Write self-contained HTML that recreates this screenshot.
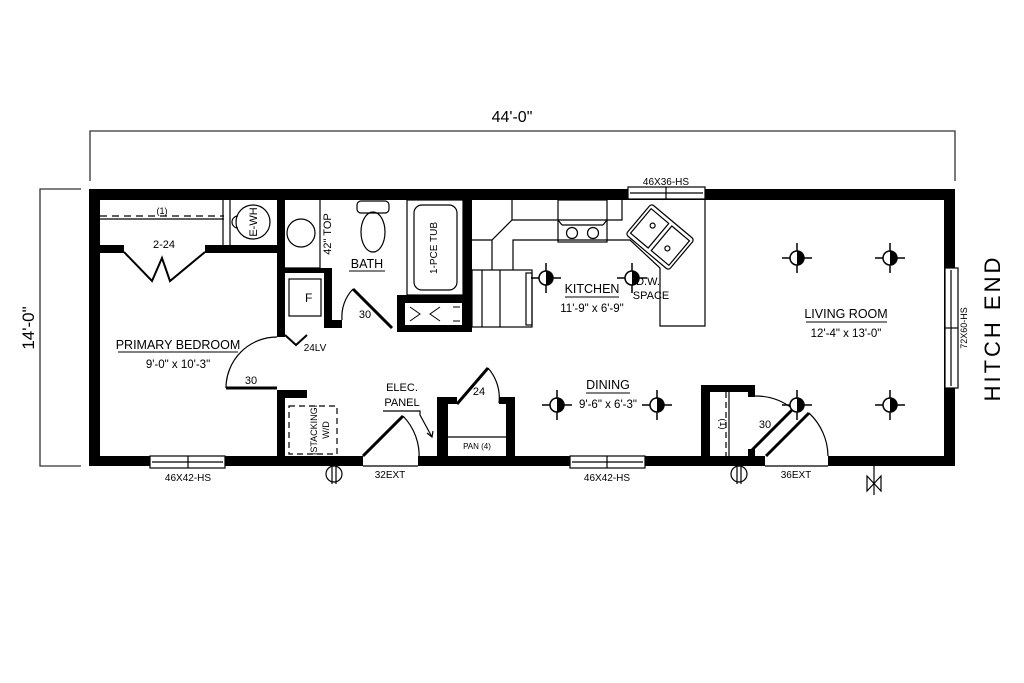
<!DOCTYPE html>
<html><head><meta charset="utf-8"><style>
html,body{margin:0;padding:0;background:#fff}
svg{display:block}
text{font-family:"Liberation Sans",sans-serif;fill:#000}
.n{font-family:"Liberation Sans Narrow","Liberation Sans",sans-serif}
</style></head><body>
<svg width="1024" height="683" viewBox="0 0 1024 683" xmlns="http://www.w3.org/2000/svg">
<defs>
<g id="lt">
<line x1="-15" y1="0" x2="15" y2="0" stroke="#000" stroke-width="1.5"/>
<line x1="0" y1="-15" x2="0" y2="15" stroke="#000" stroke-width="1.5"/>
<circle r="7" fill="#fff" stroke="#000" stroke-width="1.5"/>
<path d="M0,-7 A7,7 0 0 1 0,7 Z" fill="#000"/>
</g>
</defs>
<g stroke="#333" stroke-width="1.3" fill="none">
<polyline points="90,181 90,131 955,131 955,181"/>
<polyline points="81,189 40,189 40,466 81,466"/>
</g>
<text x="512" y="122" font-size="16" text-anchor="middle" class="n">44'-0"</text>
<text transform="translate(34,328) rotate(-90)" font-size="17" text-anchor="middle" class="n">14'-0"</text>

<g fill="#000">
<rect x="89" y="189" width="866" height="11"/>
<rect x="89" y="189" width="11" height="277"/>
<rect x="944" y="189" width="11" height="277"/>
<rect x="89" y="456" width="274" height="10"/>
<rect x="418" y="456" width="347" height="10"/>
<rect x="828" y="456" width="127" height="10"/>
<rect x="99" y="245" width="25" height="8"/>
<rect x="205" y="245" width="73" height="8"/>
<rect x="277" y="199" width="8" height="138"/>
<rect x="277" y="390" width="8" height="66"/>
<rect x="277" y="390" width="30" height="8"/>
<rect x="285" y="268" width="47" height="5"/>
<rect x="324" y="268" width="8" height="60"/>
<rect x="324" y="320" width="18" height="8"/>
<rect x="463" y="199" width="9" height="133"/>
<rect x="397" y="295" width="75" height="37"/>
<rect x="437" y="397" width="11" height="60"/>
<rect x="437" y="397" width="20" height="7"/>
<rect x="506" y="397" width="9" height="60"/>
<rect x="499" y="397" width="16" height="7"/>
<rect x="701" y="385" width="9" height="72"/>
<rect x="701" y="385" width="54" height="7"/>
<rect x="748" y="385" width="7" height="12"/>
<rect x="748" y="449" width="7" height="8"/>
</g>
<rect x="405" y="303" width="57" height="22" fill="#fff"/>
<g stroke="#000" stroke-width="1" fill="none">
<polyline points="410,307 420,314 410,321"/>
<polyline points="440,307 430,314 440,321"/>
<line x1="453" y1="307" x2="460" y2="307"/><line x1="453" y1="321" x2="460" y2="321"/>
</g>

<g stroke="#000" fill="none" stroke-width="1.2">
<line x1="100" y1="216" x2="224" y2="216" stroke-dasharray="7,5"/>
<line x1="100" y1="219" x2="224" y2="219"/>
<line x1="223" y1="200" x2="223" y2="245"/><line x1="230" y1="200" x2="230" y2="245"/>
<circle cx="253" cy="222" r="17"/>
<path d="M238,216 A4,4 0 0 0 238,228"/>
<polyline points="124,252 152,281 162,258 170,281 205,252" stroke-width="2"/>
<line x1="320" y1="200" x2="320" y2="268"/>
<line x1="285" y1="268" x2="320" y2="268"/>
<circle cx="301" cy="233" r="14"/>
<rect x="357" y="201" width="32" height="12" rx="4"/>
<ellipse cx="373" cy="232" rx="12" ry="20"/>
<rect x="407" y="200" width="56" height="95"/>
<rect x="414" y="205" width="43" height="85" rx="8"/>
<rect x="289" y="279" width="32" height="37"/>
<line x1="353" y1="289" x2="392" y2="328" stroke-width="3"/>
<path d="M342,320 A40,40 0 0 1 353,289"/>
<polyline points="285,335 296,345 307,335" stroke-width="2"/>
<line x1="226" y1="388" x2="277" y2="388" stroke-width="3"/>
<path d="M226,388 A51,51 0 0 1 277,337"/>
<rect x="289" y="406" width="48" height="48" stroke-dasharray="6,4"/>
<line x1="363" y1="456" x2="403" y2="416" stroke-width="3"/>
<path d="M403,416 A57,57 0 0 1 419,460"/>
<line x1="363" y1="466" x2="418" y2="466"/>
<polyline points="383,411 420,411 420,415 432,437"/>
<polyline points="427,433 432,437 433,431"/>
<line x1="457" y1="404" x2="488" y2="368" stroke-width="3"/>
<path d="M488,368 A45,45 0 0 1 499,403"/>
<line x1="448" y1="437" x2="506" y2="437"/>
<line x1="726" y1="392" x2="726" y2="456" stroke-dasharray="6,4"/>
<line x1="729" y1="392" x2="729" y2="456"/>
<line x1="752" y1="450" x2="793" y2="409" stroke-width="3"/>
<line x1="766" y1="456" x2="809" y2="413" stroke-width="3"/>
<path d="M755,396 A60,60 0 0 1 793,409"/>
<path d="M809,413 A60,60 0 0 1 828,456"/>
<line x1="765" y1="466" x2="828" y2="466"/>
<polyline points="512,200 512,220 622,220 622,200"/>
<polyline points="512,220 492,240 472,240"/>
<polyline points="492,240 492,270"/>
<polyline points="513,270 513,240 630,240 660,268 660,326 705,326 705,200"/>
<rect x="558" y="200" width="49" height="42"/>
<line x1="558" y1="220" x2="562" y2="225"/><line x1="607" y1="220" x2="603" y2="225"/><line x1="562" y1="225" x2="603" y2="225"/>
<circle cx="572" cy="233" r="5.5"/><circle cx="593" cy="233" r="5.5"/>
<g transform="translate(660,237) rotate(40)">
<rect x="-28" y="-20" width="56" height="40" rx="3"/>
<rect x="-25" y="-16" width="23" height="32"/><rect x="2" y="-16" width="23" height="32"/>
<circle cx="-13" cy="-4" r="2.5"/><circle cx="13" cy="4" r="2.5"/>
</g>
<rect x="472" y="270" width="60" height="57"/>
<line x1="482" y1="270" x2="482" y2="327"/>
<line x1="500" y1="270" x2="500" y2="327"/>
<rect x="526" y="273" width="6" height="52"/>
<rect x="628" y="187" width="77" height="12" fill="#fff"/>
<line x1="630" y1="193" x2="703" y2="193"/><line x1="666" y1="187" x2="666" y2="199"/>
<rect x="150" y="456" width="75" height="12" fill="#fff"/>
<line x1="152" y1="462" x2="223" y2="462"/><line x1="188" y1="456" x2="188" y2="468"/>
<rect x="570" y="456" width="75" height="12" fill="#fff"/>
<line x1="572" y1="462" x2="643" y2="462"/><line x1="607" y1="456" x2="607" y2="468"/>
<rect x="945" y="268" width="13" height="120" fill="#fff"/>
<line x1="951" y1="270" x2="951" y2="386"/><line x1="945" y1="328" x2="958" y2="328"/>
<circle cx="334" cy="474" r="8"/><line x1="332" y1="464" x2="332" y2="484"/><line x1="336" y1="464" x2="336" y2="484"/>
<circle cx="739" cy="474" r="8"/><line x1="737" y1="464" x2="737" y2="484"/><line x1="741" y1="464" x2="741" y2="484"/>
<line x1="874" y1="466" x2="874" y2="495"/>
<polygon points="867,476 881,491 881,476 867,491"/>
</g>

<g>
<use href="#lt" x="797" y="258"/><use href="#lt" x="890" y="258"/>
<use href="#lt" x="546" y="278"/><use href="#lt" x="632" y="278"/>
<use href="#lt" x="557" y="405"/><use href="#lt" x="657" y="405"/>
<use href="#lt" x="797" y="405"/><use href="#lt" x="890" y="405"/>
</g>

<g class="n">
<text x="162" y="214" font-size="9" text-anchor="middle">(1)</text>
<text transform="translate(257,222) rotate(-90)" font-size="11" text-anchor="middle">E-WH</text>
<text x="164" y="248" font-size="11" text-anchor="middle">2-24</text>
<text transform="translate(331,234) rotate(-90)" font-size="11" text-anchor="middle">42" TOP</text>
<text transform="translate(437,248) rotate(-90)" font-size="10" text-anchor="middle">1-PCE TUB</text>
<text x="305" y="302" font-size="12">F</text>
<text x="365" y="318" font-size="11" text-anchor="middle">30</text>
<text x="315" y="351" font-size="10" text-anchor="middle">24LV</text>
<text x="251" y="384" font-size="11" text-anchor="middle">30</text>
<text transform="translate(317,430) rotate(-90)" font-size="9" text-anchor="middle">ISTACKINGI</text>
<text transform="translate(329,430) rotate(-90)" font-size="9" text-anchor="middle">W/D</text>
<text x="402" y="391" font-size="11" text-anchor="middle">ELEC.</text>
<text x="402" y="406" font-size="11" text-anchor="middle">PANEL</text>
<text x="390" y="478" font-size="10" text-anchor="middle">32EXT</text>
<text x="479" y="395" font-size="11" text-anchor="middle">24</text>
<text x="477" y="449" font-size="8" text-anchor="middle">PAN (4)</text>
<text x="188" y="481" font-size="10" text-anchor="middle">46X42-HS</text>
<text x="607" y="481" font-size="10" text-anchor="middle">46X42-HS</text>
<text x="666" y="185" font-size="10" text-anchor="middle">46X36-HS</text>
<text transform="translate(967,328) rotate(-90)" font-size="9" text-anchor="middle">72X60-HS</text>
<text transform="translate(1000,328) rotate(-90)" font-size="22" text-anchor="middle" letter-spacing="3">HITCH END</text>
<text x="648" y="285" font-size="11" text-anchor="middle">D.W.</text>
<text x="651" y="299" font-size="11" text-anchor="middle">SPACE</text>
<text transform="translate(720,424) rotate(90)" font-size="9" text-anchor="middle">(1)</text>
<text x="765" y="428" font-size="11" text-anchor="middle">30</text>
<text x="796" y="478" font-size="10" text-anchor="middle">36EXT</text>
</g>
<g font-size="12.5">
<text x="178" y="349" text-anchor="middle">PRIMARY BEDROOM</text>
<line x1="118" y1="352" x2="238" y2="352" stroke="#000"/>
<text x="178" y="368" text-anchor="middle" font-size="11.5">9'-0" x 10'-3"</text>
<text x="367" y="268" text-anchor="middle">BATH</text>
<line x1="349" y1="271" x2="385" y2="271" stroke="#000"/>
<text x="592" y="293" text-anchor="middle">KITCHEN</text>
<line x1="565" y1="297" x2="619" y2="297" stroke="#000"/>
<text x="592" y="312" text-anchor="middle" font-size="11.5">11'-9" x 6'-9"</text>
<text x="608" y="389" text-anchor="middle">DINING</text>
<line x1="586" y1="393" x2="630" y2="393" stroke="#000"/>
<text x="608" y="408" text-anchor="middle" font-size="11.5">9'-6" x 6'-3"</text>
<text x="846" y="318" text-anchor="middle">LIVING ROOM</text>
<line x1="806" y1="322" x2="887" y2="322" stroke="#000"/>
<text x="846" y="337" text-anchor="middle" font-size="11.5">12'-4" x 13'-0"</text>
</g>
</svg>
</body></html>
